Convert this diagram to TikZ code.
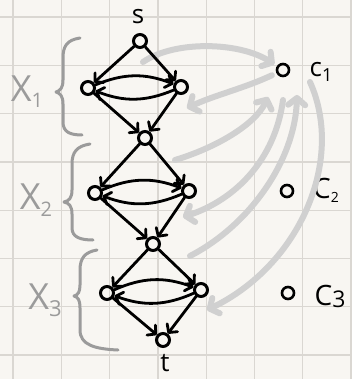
\documentclass[tikz,border=0pt]{standalone}
\usepackage{fontspec}
\setmainfont{Open Sans}
\usetikzlibrary{arrows.meta}
\definecolor{paper}{HTML}{F8F6F2}
\definecolor{gridc}{HTML}{DAD7D2}
\definecolor{brc}{HTML}{9B9B9B}
\definecolor{arc}{HTML}{D0D0D0}
\begin{document}
\begin{tikzpicture}[x=1pt,y=-1pt,
  vtx/.style={circle,draw,line width=3pt,minimum size=13pt,inner sep=0pt},
  cvtx/.style={circle,draw,line width=2.6pt,minimum size=12pt,inner sep=0pt},
  edge/.style={line width=2.8pt,line cap=round,-{Straight Barb[round,length=6pt,width=13pt]}},
  garrow/.style={line width=6pt,draw=arc,line cap=round,-{Straight Barb[round,length=7pt,width=17pt]}},
  brace/.style={line width=3pt,draw=brc,line cap=round,line join=round},
  lbl/.style={inner sep=0pt}]
\fill[paper] (0,0) rectangle (352,379);
\useasboundingbox (0,0) rectangle (352,379);
\foreach \i in {0,...,7} {
  \draw[gridc,line width=1.3pt] (13+48.3*\i,0) -- (13+48.3*\i,379);
  \draw[gridc,line width=1.3pt] (0,17+48.3*\i) -- (352,17+48.3*\i);
}
% vertices
\node[vtx] (s) at (140,41) {};
\node[vtx] (l1) at (88,88) {};
\node[vtx] (r1) at (181,87) {};
\node[vtx] (m1) at (145,138) {};
\node[vtx] (l2) at (95,193) {};
\node[vtx] (r2) at (189,191) {};
\node[vtx] (m2) at (153,244) {};
\node[vtx] (l3) at (107,293) {};
\node[vtx] (r3) at (201,290) {};
\node[vtx] (t) at (163,340) {};
\node[cvtx] (c1) at (283,70) {};
\node[cvtx] (c2) at (287,191) {};
\node[cvtx] (c3) at (288,293) {};
% labels
\node[lbl,font=\fontsize{26}{26}\selectfont] (slab) at (138,17) {s};
\node[lbl,font=\fontsize{26}{26}\selectfont] (tlab) at (165,363) {t};
\node[lbl,font=\fontsize{26}{26}\selectfont] (c1lab) at (321,72) {c\raisebox{-5pt}{\fontsize{18}{18}\selectfont 1}};
\node[lbl,font=\fontsize{28}{28}\selectfont] (c2lab) at (326,190) {C\raisebox{-4pt}{\fontsize{14}{14}\selectfont 2}};
\node[lbl,font=\fontsize{28}{28}\selectfont] (c3lab) at (330,296) {C\raisebox{-2pt}{\fontsize{23}{23}\selectfont 3}};
\node[lbl,text=brc,font=\fontsize{36}{36}\selectfont] (x1lab) at (27,92) {X\raisebox{-6pt}{\fontsize{20}{20}\selectfont 1}};
\node[lbl,text=brc,font=\fontsize{36}{36}\selectfont] (x2lab) at (36,200) {X\raisebox{-7pt}{\fontsize{20}{20}\selectfont 2}};
\node[lbl,text=brc,font=\fontsize{36}{36}\selectfont] (x3lab) at (45,300) {X\raisebox{-7pt}{\fontsize{22}{22}\selectfont 3}};
% braces
\draw[brace] (80,38) .. controls (67,40) and (63,46) .. (63,58) -- (63,80)
  .. controls (63,88) and (60,91) .. (56,92) .. controls (60,93) and (63,96) .. (63,104)
  -- (63,122) .. controls (63,132) and (70,135) .. (82,135);
\draw[brace] (90,144) .. controls (77,146) and (72,152) .. (72,164) -- (72,190)
  .. controls (72,198) and (69,201) .. (64,202) .. controls (69,203) and (72,206) .. (72,214)
  -- (72,228) .. controls (72,237) and (80,240) .. (93,240);
\draw[brace] (97,250) .. controls (85,252) and (80,258) .. (80,270) -- (80,285)
  .. controls (80,292) and (78,295) .. (74,296) .. controls (78,297) and (80,300) .. (80,308)
  -- (80,330) .. controls (80,345) and (95,349) .. (118,350);
% gray arrows
\coordinate (g1) at (143,62);
\coordinate (e2) at (187,108);
\coordinate (g3) at (175,160);
\coordinate (a3) at (268,97);
\coordinate (b4) at (283,100);
\coordinate (e4) at (183,217);
\coordinate (g5) at (190,256);
\coordinate (a5) at (297,95);
\coordinate (b6) at (310,82);
\coordinate (e6) at (207,310);
\draw[garrow,shorten >=3pt] (g1) .. controls (175,40) and (240,42) .. (c1);
\draw[garrow,shorten <=5pt] (c1) .. controls (245,88) and (215,95) .. (e2);
\draw[garrow] (g3) .. controls (215,148) and (255,125) .. (a3);
\draw[garrow] (b4) .. controls (275,160) and (235,200) .. (e4);
\draw[garrow] (g5) .. controls (250,225) and (295,160) .. (a5);
\draw[garrow] (b6) .. controls (345,160) and (300,265) .. (e6);
% black edges
\foreach \ta/\tb/\tc/\td in {s/l1/r1/m1, m1/l2/r2/m2, m2/l3/r3/t} {
  \draw[edge] (\ta) -- (\tb);
  \draw[edge] (\ta) -- (\tc);
  \draw[edge] (\tb) to[bend left=22] (\tc);
  \draw[edge] (\tc) to[bend left=22] (\tb);
  \draw[edge] (\tb) -- (\td);
  \draw[edge] (\tc) -- (\td);
}
\end{tikzpicture}
\end{document}
